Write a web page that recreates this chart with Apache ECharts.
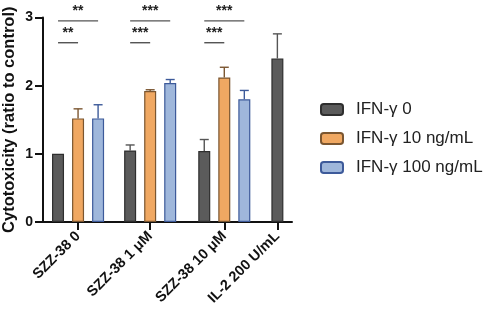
<!DOCTYPE html>
<html>
<head>
<meta charset="utf-8">
<script src="https://cdn.jsdelivr.net/npm/echarts@6/dist/echarts.min.js"></script>
<style>
  html, body { margin: 0; padding: 0; background: #fff; }
  #chart { width: 484px; height: 319px; }
</style>
</head>
<body>
<div id="chart"></div>
<script>
// groups on the x axis
var groups = ['SZZ-38 0', 'SZZ-38 1 μM', 'SZZ-38 10 μM', 'IL-2 200 U/mL'];
var seriesNames = ['IFN-γ 0', 'IFN-γ 10 ng/mL', 'IFN-γ 100 ng/mL'];

// means and SD (ratio to control)
var ifn0 = [1.00, 1.05, 1.04, 2.40];
var ifn0Sd = [0, 0.08, 0.17, 0.36];
var ifn10 = [1.52, 1.92, 2.12];
var ifn10Sd = [0.14, 0.02, 0.15];
var ifn100 = [1.52, 2.04, 1.80];
var ifn100Sd = [0.20, 0.05, 0.13];

// significance brackets: [group, from series, to series, level]
var sigPairs = [[0, 0, 1, 0], [0, 0, 2, 1], [1, 0, 1, 0], [1, 0, 2, 1], [2, 0, 1, 0], [2, 0, 2, 1]];
var sigLabels = ['**', '**', '***', '***', '***', '***'];
var sigLevels = [2.63, 2.95];

// layout: where each group starts on the x axis (one unit = one bar slot)
var groupStart = [0, 3.6, 7.3, 10.95];
var colors = ['#5b5b5b', '#f0a862', '#9fb7db'];
var borders = ['#2e2e2e', '#7b5630', '#3d5a9a'];
var errColors = ['#555', '#7b5630', '#3d5a9a'];

var means = [ifn0, ifn10, ifn100];
var sds = [ifn0Sd, ifn10Sd, ifn100Sd];

function xOf(g, s) { return groupStart[g] + s; }

var tickPos = groups.map(function (g, i) {
    var n = 0;
    means.forEach(function (m) { if (m[i] != null) n++; });
    return groupStart[i] + (n - 1) / 2;
});

var series = [];
means.forEach(function (m, s) {
    series.push({
        name: seriesNames[s],
        type: 'bar',
        barWidth: 12,
        barGap: '-100%',
        itemStyle: { color: colors[s], borderColor: borders[s], borderWidth: 1.2 },
        data: m.map(function (v, g) { return [xOf(g, s), v]; })
    });
});
means.forEach(function (m, s) {
    series.push({
        type: 'custom',
        silent: true,
        z: 1,
        data: m.map(function (v, g) { return [xOf(g, s), v, sds[s][g]]; }),
        renderItem: function (params, api) {
            var x = api.value(0), y = api.value(1), e = api.value(2);
            if (!(e > 0)) return;
            var p0 = api.coord([x, y]);
            var p1 = api.coord([x, y + e]);
            var st = { stroke: errColors[s], lineWidth: 1.4 };
            return {
                type: 'group',
                children: [
                    { type: 'line', shape: { x1: p0[0], y1: p0[1], x2: p1[0], y2: p1[1] }, style: st },
                    { type: 'line', shape: { x1: p1[0] - 4.5, y1: p1[1], x2: p1[0] + 4.5, y2: p1[1] }, style: st }
                ]
            };
        }
    });
});
series.push({
    type: 'custom',
    silent: true,
    data: sigPairs.map(function (p) { return [xOf(p[0], p[1]), xOf(p[0], p[2]), sigLevels[p[3]]]; }),
    renderItem: function (params, api) {
        var a = api.coord([api.value(0), api.value(2)]);
        var b = api.coord([api.value(1), api.value(2)]);
        return {
            type: 'group',
            children: [
                { type: 'line', shape: { x1: a[0], y1: a[1], x2: b[0], y2: b[1] },
                  style: { stroke: '#555', lineWidth: 1.4 } },
                { type: 'text', x: (a[0] + b[0]) / 2, y: a[1] - 3,
                  style: { text: sigLabels[params.dataIndex], fill: '#222', font: 'bold 14px "Liberation Sans", Arial',
                           align: 'center', verticalAlign: 'bottom' } }
            ]
        };
    }
});

var chart = echarts.init(document.getElementById('chart'));
var option = {
    animation: false,
    grid: { left: 43, right: 192, top: 17.5, bottom: 97, outerBoundsMode: 'none' },
    legend: {
        orient: 'vertical',
        left: 320,
        top: 101,
        padding: 0,
        itemWidth: 22,
        itemHeight: 11,
        itemGap: 12,
        data: seriesNames,
        textStyle: { fontFamily: '"Liberation Sans", Arial', fontSize: 17, lineHeight: 16, color: '#222', padding: [0, 0, 0, 8] }
    },
    xAxis: {
        type: 'value',
        min: -0.75,
        max: 11.68,
        splitLine: { show: false },
        axisLine: { onZero: false, lineStyle: { color: '#111', width: 2 } },
        axisTick: { customValues: tickPos, length: 8, lineStyle: { color: '#111', width: 2 } },
        axisLabel: {
            customValues: tickPos,
            rotate: 45,
            margin: 12,
            color: '#111',
            fontWeight: 'bold',
            fontSize: 14.5,
            fontFamily: '"Liberation Sans", Arial',
            formatter: function (v) {
                for (var i = 0; i < tickPos.length; i++) {
                    if (Math.abs(tickPos[i] - v) < 1e-6) return groups[i];
                }
                return '';
            }
        }
    },
    yAxis: {
        type: 'value',
        min: 0,
        max: 3,
        interval: 1,
        name: 'Cytotoxicity (ratio to control)',
        nameLocation: 'middle',
        nameGap: 25,
        nameMoveOverlap: false,
        nameTextStyle: { color: '#111', fontWeight: 'bold', fontSize: 16.5, fontFamily: '"Liberation Sans", Arial' },
        splitLine: { show: false },
        axisLine: { show: true, onZero: false, lineStyle: { color: '#111', width: 2 } },
        axisTick: { show: true, length: 8, lineStyle: { color: '#111', width: 2 } },
        axisLabel: { color: '#111', fontWeight: 'bold', fontSize: 14, margin: 10, fontFamily: '"Liberation Sans", Arial' }
    },
    series: series
};
chart.setOption(option);
window.addEventListener('resize', function () { chart.resize(); });
</script>
</body>
</html>
